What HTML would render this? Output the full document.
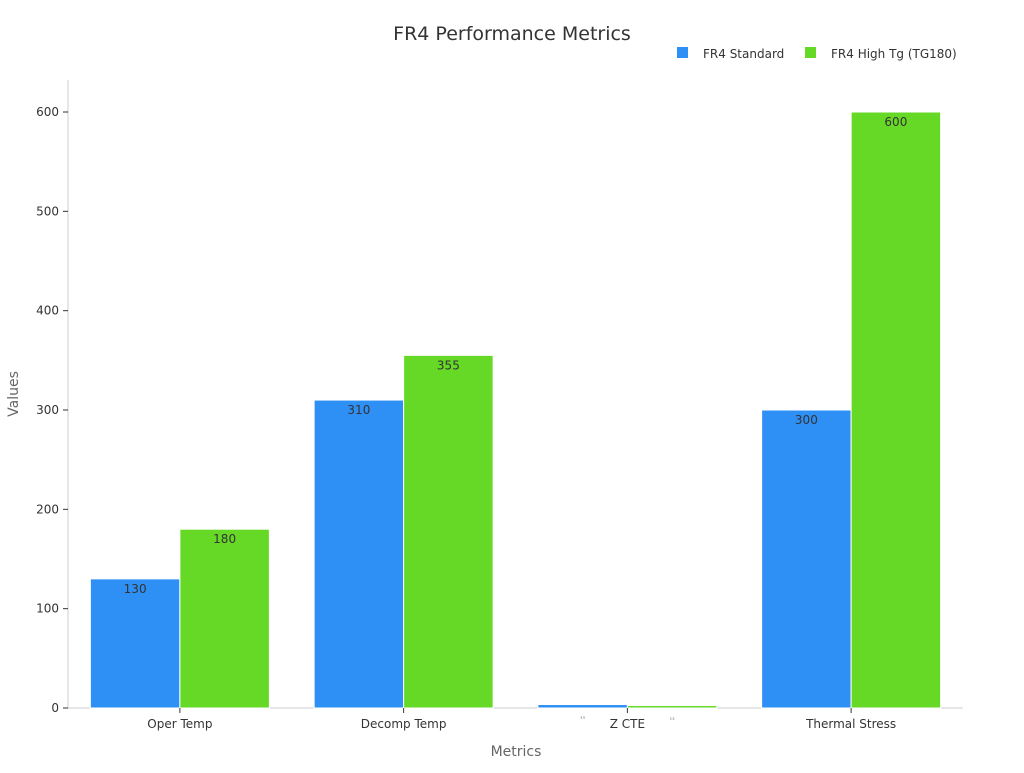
<!DOCTYPE html>
<html><head><meta charset="utf-8"><style>
body{margin:0;background:#fff;font-family:"Liberation Sans","DejaVu Sans",sans-serif;}
svg text{font-family:"DejaVu Sans","Liberation Sans",sans-serif;}
</style></head><body>
<svg id="chart" width="1024" height="768">
<text x="512" y="40" text-anchor="middle" font-size="19" fill="#333">FR4 Performance Metrics</text>
<g>
<rect x="677" y="47" width="11" height="11" fill="#2e90f5"/>
<text x="703" y="58" font-size="12" fill="#333">FR4 Standard</text>
<rect x="805" y="47" width="11" height="11" fill="#66d926"/>
<text x="831" y="58" font-size="12" fill="#333">FR4 High Tg (TG180)</text>
</g>
<line x1="68" y1="80" x2="68" y2="708" stroke="#ccc"/>
<line x1="68" y1="708" x2="963" y2="708" stroke="#ccc"/>
<g id="yticks"></g><g id="bars"></g><g id="xticks"></g>
<text x="18" y="394" transform="rotate(-90 18 394)" text-anchor="middle" font-size="14" fill="#666">Values</text>
<text x="516" y="756" text-anchor="middle" font-size="14" fill="#666">Metrics</text>
</svg>
<script>
const categories=["Oper Temp","Decomp Temp","Z CTE","Thermal Stress"];
const standardValues=[130,310,3.5,300];
const highTgValues=[180,355,2.5,600];
const yTickLabels=[0,100,200,300,400,500,600];
const NS="http://www.w3.org/2000/svg";
const x0=68,x1=963,yb=708,yt=112,ymax=600;
const y=v=>yb-(v/ymax)*(yb-yt);
const band=(x1-x0)/categories.length;
const cx=i=>x0+band*(i+0.5);
function mk(t,a,p){const e=document.createElementNS(NS,t);for(const k in a)e.setAttribute(k,a[k]);p.appendChild(e);return e;}
const yg=document.getElementById('yticks');
yTickLabels.forEach(v=>{
 const l=mk('line',{x1:x0-5,x2:x0,y1:y(v),y2:y(v),stroke:'#333'},yg);
 
 
 const t=mk('text',{x:x0-9,y:y(v)+4,'text-anchor':'end','font-size':12,fill:'#333'},yg);
 t.textContent=v;
 
 
});
const bg=document.getElementById('bars');
const bw=band*0.4;
const series=[[standardValues,'#2e90f5','standard'],[highTgValues,'#66d926','hightg']];
categories.forEach((c,i)=>{
 series.forEach(([vals,col,nm],s)=>{
  const bx=cx(i)-bw+s*bw;
  const r=mk('rect',{x:bx,y:y(vals[i]),width:bw,height:yb-y(vals[i]),fill:col,stroke:'#fff','stroke-width':1},bg);
  
  
  const t=mk('text',{x:bx+bw/2,y:y(vals[i])+14,'text-anchor':'middle','font-size':vals[i]<20?3:12,fill:'#333'},bg);
  t.textContent=vals[i];
  
  
 });
 const xg=document.getElementById('xticks');
 const l=mk('line',{x1:cx(i),x2:cx(i),y1:yb,y2:yb+5,stroke:'#333'},xg);
 
 
 const t=mk('text',{x:cx(i),y:yb+20,'text-anchor':'middle','font-size':12,fill:'#333'},xg);
 t.textContent=c;
 
 
});
</script>
</body></html>
